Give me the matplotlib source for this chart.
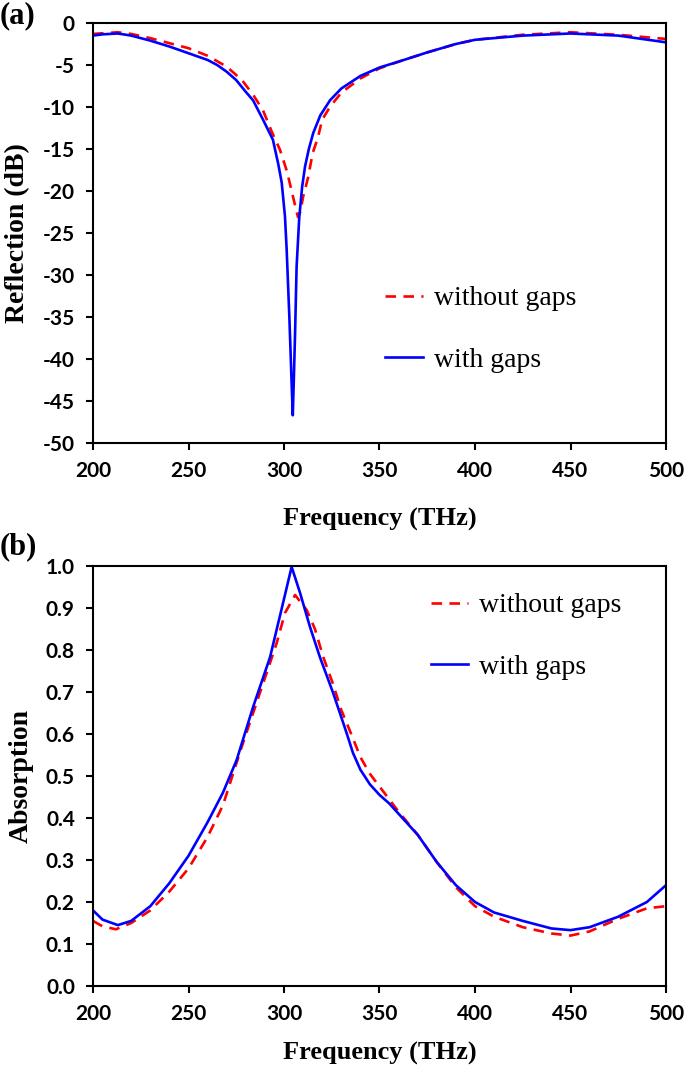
import matplotlib
matplotlib.use("Agg")
import matplotlib.pyplot as plt

# ---------------- data ----------------
refl_f_wo = [200, 213, 220, 230, 240, 250, 260, 270, 278, 284, 289, 293.7, 297.9, 301.6, 304.2,
             307.3, 308.5, 310, 312.6, 315, 317.8, 320, 324, 330, 340, 350, 360, 375, 390, 400,
             425, 450, 475, 500]
refl_wo = [-1.3, -1.1, -1.3, -1.8, -2.4, -3.0, -3.9, -5.2, -6.8, -8.6, -10.4, -13.0, -15.1, -17.7, -20.2,
           -23.1, -22.5, -20.7, -18.4, -15.5, -13.6, -11.5, -10.0, -8.3, -6.6, -5.4, -4.6, -3.5, -2.5, -2.0,
           -1.4, -1.1, -1.4, -1.9]

refl_f_w = [200, 205, 213, 220, 230, 240, 250, 260, 265, 270, 275, 280, 283.8, 289, 294.2, 297, 298.8,
            300.5, 301.4, 302.8, 304.0, 304.6, 305.2, 305.8, 306.6, 308, 309.5, 311, 313, 315.3, 319,
            324.1, 330, 340, 350, 360, 375, 390, 400, 425, 450, 475, 500]
refl_w = [-1.5, -1.35, -1.25, -1.5, -2.1, -2.8, -3.6, -4.4, -5.0, -5.8, -6.8, -8.2, -9.2, -11.5, -13.9, -16.8, -19.0,
          -23.0, -27.0, -35.0, -42.9, -46.7, -42.0, -36.9, -29.0, -23.1, -19.5, -17.1, -15.0, -13.1, -11.0,
          -9.2, -7.8, -6.3, -5.3, -4.6, -3.5, -2.5, -2.0, -1.5, -1.25, -1.5, -2.3]

abs_f_wo = [200, 205, 212, 220, 230, 240, 250, 260, 268, 277.9, 287.4, 296.2, 300.5, 305.8, 311.9, 316.2,
            320.5, 325.5, 330, 335, 340, 345, 350, 355, 360, 370, 380, 390, 400, 410, 425, 440,
            450, 460, 475, 490, 500]
abs_wo = [0.155, 0.142, 0.135, 0.15, 0.18, 0.225, 0.28, 0.355, 0.43, 0.570, 0.698, 0.817, 0.888, 0.931, 0.895,
          0.850, 0.784, 0.721, 0.657, 0.602, 0.545, 0.505, 0.475, 0.445, 0.415, 0.36, 0.295, 0.235, 0.19, 0.165,
          0.14, 0.125, 0.12, 0.13, 0.16, 0.185, 0.19]

abs_f_w = [200, 205, 213, 220, 230, 240, 250, 260, 268, 275.2, 283.8, 292.7, 299.5, 304, 308.4, 313.6, 318.8,
           325.7, 332.8, 336.1, 340, 345, 350, 355, 360, 370, 380, 390, 400, 410, 425, 440, 450, 460, 475,
           490, 500]
abs_w = [0.18, 0.158, 0.145, 0.155, 0.19, 0.245, 0.31, 0.39, 0.46, 0.538, 0.664, 0.783, 0.912, 0.998, 0.936,
         0.855, 0.783, 0.698, 0.602, 0.555, 0.515, 0.48, 0.455, 0.435, 0.41, 0.36, 0.295, 0.24, 0.2, 0.175,
         0.155, 0.137, 0.133, 0.14, 0.165, 0.2, 0.24]

x_ticks = [200, 250, 300, 350, 400, 450, 500]
refl_ticks = [0, -5, -10, -15, -20, -25, -30, -35, -40, -45, -50]
abs_ticks = [0.0, 0.1, 0.2, 0.3, 0.4, 0.5, 0.6, 0.7, 0.8, 0.9, 1.0]

label_wo = "without gaps"
label_w = "with gaps"

# ---------------- style ----------------
RED = "#FF0000"
BLUE = "#0000FF"
SERIF = "Liberation Serif"

fig = plt.figure(figsize=(6.85, 10.72), dpi=100)
ax1 = fig.add_axes([93/685, 1-443/1072, 573/685, 420/1072])
ax2 = fig.add_axes([93/685, 1-986/1072, 573/685, 420/1072])


def style(ax):
    for s in ax.spines.values():
        s.set_linewidth(1.5)
        s.set_color("black")
    ax.tick_params(direction="out", length=5, width=1.5, pad=8,
                   top=False, right=False)
    for lab in ax.get_xticklabels() + ax.get_yticklabels():
        lab.set_fontfamily("Lato")
        lab.set_fontweight("bold")
        lab.set_fontsize(15)


LEG = dict(frameon=False, borderpad=0, prop=dict(family=SERIF, size=20),
           handlelength=1.35, handletextpad=0.4, labelspacing=1.3)

# panel a
ax1.plot(refl_f_wo, refl_wo, color=RED, lw=1.9, dashes=(4, 2.8), label=label_wo)
ax1.plot(refl_f_w, refl_w, color=BLUE, lw=1.9, label=label_w)
ax1.set_xlim(200, 500)
ax1.set_ylim(-50, 0)
ax1.set_xticks(x_ticks)
ax1.set_yticks(refl_ticks)
ax1.set_yticklabels([str(t) for t in refl_ticks])
style(ax1)
ax1.set_xlabel("Frequency (THz)", family=SERIF, weight="bold", size=19, labelpad=19)
ax1.set_ylabel("Reflection (dB)", family=SERIF, weight="bold", size=20, labelpad=9)
ax1.legend(loc="upper left", bbox_to_anchor=(0.486, 0.407), **LEG)

# panel b
ax2.plot(abs_f_wo, abs_wo, color=RED, lw=1.9, dashes=(4, 2.8), label=label_wo)
ax2.plot(abs_f_w, abs_w, color=BLUE, lw=1.9, label=label_w)
ax2.set_xlim(200, 500)
ax2.set_ylim(0, 1.0)
ax2.set_xticks(x_ticks)
ax2.set_yticks(abs_ticks)
ax2.set_yticklabels([f"{t:.1f}" for t in abs_ticks])
style(ax2)
ax2.set_xlabel("Frequency (THz)", family=SERIF, weight="bold", size=19, labelpad=13)
ax2.set_ylabel("Absorption", family=SERIF, weight="bold", size=20, labelpad=9)
ax2.legend(loc="upper left", bbox_to_anchor=(0.565, 0.969), **LEG)

fig.text(0.0, 0.999, "(a)", family=SERIF, weight="bold", size=22, va="top", ha="left")
fig.text(0.0, 1-532/1072, "(b)", family=SERIF, weight="bold", size=22, va="top", ha="left")

fig.savefig("out.png", dpi=100)
